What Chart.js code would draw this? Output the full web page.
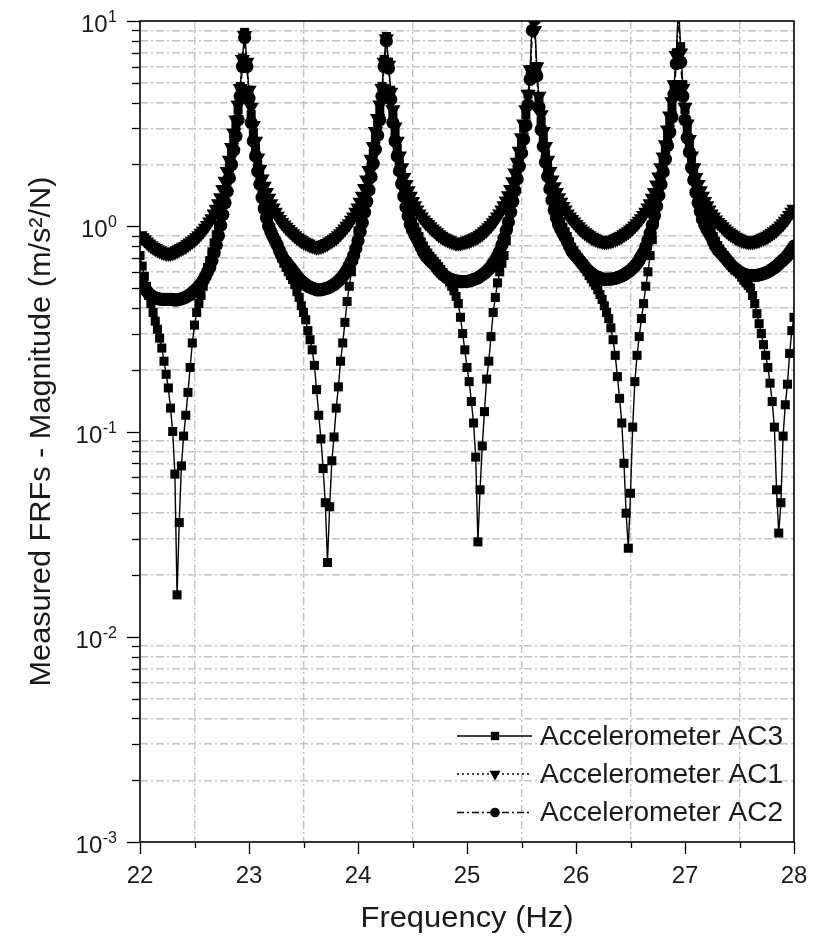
<!DOCTYPE html>
<html>
<head>
<meta charset="utf-8">
<script src="https://cdn.jsdelivr.net/npm/chart.js@4.4.0/dist/chart.umd.min.js"></script>
<style>
html,body{margin:0;padding:0;background:#fff;}
canvas{display:block;background:#fff;}
</style>
</head>
<body>
<canvas id="c" width="815" height="939"></canvas>
<script>
// ---------------- DATA ----------------
const seriesNames = ['Accelerometer AC3', 'Accelerometer AC1', 'Accelerometer AC2'];
const xTitle = 'Frequency (Hz)';
const yTitle = 'Measured FRFs - Magnitude (m/s\u00B2/N)';

const freq = [
22.00,22.02,22.04,22.06,22.08,22.10,22.12,22.14,22.16,22.18,
22.20,22.22,22.24,22.26,22.28,22.30,22.32,22.34,22.36,22.38,
22.40,22.42,22.44,22.46,22.48,22.50,22.52,22.54,22.56,22.58,
22.60,22.62,22.64,22.66,22.68,22.70,22.72,22.74,22.76,22.78,
22.80,22.82,22.84,22.86,22.88,22.90,22.92,22.94,22.96,22.98,
23.00,23.02,23.04,23.06,23.08,23.10,23.12,23.14,23.16,23.18,
23.20,23.22,23.24,23.26,23.28,23.30,23.32,23.34,23.36,23.38,
23.40,23.42,23.44,23.46,23.48,23.50,23.52,23.54,23.56,23.58,
23.60,23.62,23.64,23.66,23.68,23.70,23.72,23.74,23.76,23.78,
23.80,23.82,23.84,23.86,23.88,23.90,23.92,23.94,23.96,23.98,
24.00,24.02,24.04,24.06,24.08,24.10,24.12,24.14,24.16,24.18,
24.20,24.22,24.24,24.26,24.28,24.30,24.32,24.34,24.36,24.38,
24.40,24.42,24.44,24.46,24.48,24.50,24.52,24.54,24.56,24.58,
24.60,24.62,24.64,24.66,24.68,24.70,24.72,24.74,24.76,24.78,
24.80,24.82,24.84,24.86,24.88,24.90,24.92,24.94,24.96,24.98,
25.00,25.02,25.04,25.06,25.08,25.10,25.12,25.14,25.16,25.18,
25.20,25.22,25.24,25.26,25.28,25.30,25.32,25.34,25.36,25.38,
25.40,25.42,25.44,25.46,25.48,25.50,25.52,25.54,25.56,25.58,
25.60,25.62,25.64,25.66,25.68,25.70,25.72,25.74,25.76,25.78,
25.80,25.82,25.84,25.86,25.88,25.90,25.92,25.94,25.96,25.98,
26.00,26.02,26.04,26.06,26.08,26.10,26.12,26.14,26.16,26.18,
26.20,26.22,26.24,26.26,26.28,26.30,26.32,26.34,26.36,26.38,
26.40,26.42,26.44,26.46,26.48,26.50,26.52,26.54,26.56,26.58,
26.60,26.62,26.64,26.66,26.68,26.70,26.72,26.74,26.76,26.78,
26.80,26.82,26.84,26.86,26.88,26.90,26.92,26.94,26.96,26.98,
27.00,27.02,27.04,27.06,27.08,27.10,27.12,27.14,27.16,27.18,
27.20,27.22,27.24,27.26,27.28,27.30,27.32,27.34,27.36,27.38,
27.40,27.42,27.44,27.46,27.48,27.50,27.52,27.54,27.56,27.58,
27.60,27.62,27.64,27.66,27.68,27.70,27.72,27.74,27.76,27.78,
27.80,27.82,27.84,27.86,27.88,27.90,27.92,27.94,27.96,27.98,
28.00
];

// Accelerometer AC3 (squares, solid line) - deep antiresonances
const ac3 = [
.72,.64,.57,.51,.46,.42,.38,.345,.315,.285,
.255,.22,.19,.163,.13,.10,.062,.016,.036,.068,
.095,.12,.155,.205,.27,.33,.38,.42,.46,.51,
.57,.63,.68,.75,.83,.91,1.01,1.13,1.28,1.45,
1.66,1.92,2.25,2.65,3.1,3.7,4.8,6.6,8.8,6.2,
4.6,3.5,2.85,2.4,2.0,1.72,1.48,1.3,1.17,1.06,
.98,.91,.85,.80,.75,.70,.66,.63,.60,.575,
.55,.52,.48,.45,.41,.38,.35,.31,.28,.25,
.21,.16,.12,.092,.066,.045,.023,.043,.072,.094,
.13,.165,.22,.27,.34,.43,.51,.6,.69,.78,
.95,1.05,1.17,1.31,1.48,1.68,1.95,2.25,2.65,3.1,
3.7,4.8,6.5,8.4,6.3,4.6,3.5,2.85,2.4,2.03,
1.76,1.53,1.36,1.23,1.12,1.05,.99,.94,.89,.84,
.80,.765,.74,.715,.695,.675,.655,.635,.615,.595,
.575,.555,.535,.51,.485,.455,.42,.36,.30,.25,
.205,.175,.14,.11,.075,.029,.052,.085,.125,.18,
.22,.29,.38,.45,.53,.60,.66,.72,.85,1.0,
1.2,1.42,1.63,1.88,2.18,2.55,3.0,3.5,4.4,5.8,
11,10.5,6.0,4.2,3.25,2.7,2.25,1.92,1.67,1.47,
1.32,1.2,1.11,1.05,.99,.94,.89,.84,.79,.76,
.73,.70,.675,.65,.625,.60,.575,.555,.535,.515,
.49,.465,.44,.41,.38,.355,.32,.28,.235,.185,
.145,.11,.07,.04,.027,.05,.105,.175,.235,.29,
.355,.42,.51,.6,.72,.86,1.05,1.25,1.48,1.75,
2.05,2.38,2.75,3.2,3.8,4.9,7.0,12,7.5,4.9,
3.7,3.0,2.55,2.15,1.87,1.63,1.45,1.31,1.2,1.12,
1.06,1.0,.95,.89,.845,.805,.775,.745,.72,.695,
.67,.65,.63,.61,.60,.585,.565,.545,.53,.515,
.50,.46,.42,.375,.335,.30,.265,.235,.205,.172,
.14,.105,.052,.032,.045,.095,.135,.17,.24,.31,
.36
];

// Accelerometer AC1 (down triangles, dotted line) - upper curve
const ac1 = [
.90,.88,.86,.84,.82,.805,.79,.78,.77,.76,
.75,.745,.74,.74,.74,.745,.75,.76,.77,.78,
.79,.80,.815,.83,.845,.86,.88,.90,.925,.95,
.98,1.01,1.05,1.09,1.15,1.21,1.29,1.38,1.51,1.66,
1.85,2.1,2.42,2.85,3.3,3.9,4.7,6.5,8.5,6.3,
4.6,3.8,3.1,2.6,2.15,1.9,1.7,1.57,1.46,1.37,
1.29,1.23,1.17,1.12,1.08,1.045,1.015,.99,.965,.94,
.92,.90,.88,.865,.85,.84,.83,.82,.81,.805,
.80,.79,.795,.80,.805,.815,.825,.84,.85,.865,
.88,.90,.92,.945,.97,1.0,1.03,1.07,1.11,1.17,
1.23,1.31,1.4,1.53,1.68,1.87,2.12,2.45,2.9,3.35,
3.9,4.7,6.3,8.2,6.1,4.5,3.7,3.05,2.6,2.2,
1.93,1.73,1.6,1.49,1.4,1.32,1.26,1.2,1.15,1.11,
1.075,1.045,1.02,.995,.97,.95,.93,.91,.895,.88,
.87,.86,.85,.84,.835,.83,.83,.83,.835,.84,
.845,.85,.86,.87,.88,.89,.905,.92,.94,.96,
.985,1.01,1.04,1.07,1.11,1.15,1.2,1.26,1.33,1.41,
1.51,1.65,1.82,2.05,2.32,2.7,3.15,3.7,4.4,5.8,
10.5,9.0,6.0,4.3,3.5,2.9,2.45,2.1,1.85,1.68,
1.56,1.46,1.38,1.31,1.25,1.2,1.15,1.11,1.08,1.05,
1.02,.995,.97,.95,.93,.915,.90,.885,.875,.865,
.855,.85,.845,.84,.84,.845,.85,.855,.865,.875,
.885,.895,.91,.925,.94,.96,.98,1.005,1.03,1.06,
1.09,1.13,1.17,1.23,1.29,1.37,1.46,1.59,1.74,1.93,
2.18,2.5,2.95,3.45,4.05,4.9,6.8,11,7.0,4.7,
3.8,3.15,2.65,2.2,1.93,1.73,1.6,1.49,1.4,1.32,
1.26,1.2,1.15,1.11,1.075,1.045,1.02,.995,.97,.95,
.93,.915,.90,.885,.875,.865,.855,.85,.845,.84,
.84,.84,.845,.85,.855,.865,.875,.885,.895,.91,
.925,.94,.96,.98,1.005,1.03,1.06,1.09,1.13,1.17,
1.21
];

// Accelerometer AC2 (circles, dash-dot line) - middle curve
const ac2 = [
.54,.52,.50,.485,.47,.46,.453,.448,.445,.442,
.44,.44,.44,.44,.44,.44,.437,.438,.44,.443,
.447,.452,.458,.465,.475,.485,.495,.51,.525,.545,
.57,.60,.63,.68,.74,.81,.90,1.01,1.14,1.3,
1.48,1.72,2.0,2.35,2.75,3.3,4.3,6.0,8.3,6.0,
4.2,3.2,2.6,2.2,1.85,1.6,1.38,1.22,1.1,1.0,
.94,.89,.85,.81,.76,.72,.69,.67,.65,.63,
.61,.59,.57,.555,.54,.53,.52,.51,.505,.50,
.495,.49,.49,.49,.493,.497,.50,.505,.512,.52,
.53,.54,.555,.57,.59,.615,.645,.675,.72,.78,
.85,.94,1.04,1.17,1.32,1.5,1.74,2.02,2.37,2.77,
3.3,4.3,6.0,8.0,5.9,4.15,3.2,2.6,2.2,1.86,
1.61,1.4,1.24,1.12,1.02,.96,.91,.87,.83,.785,
.75,.72,.70,.68,.665,.65,.63,.61,.595,.58,
.57,.56,.555,.55,.545,.54,.54,.537,.537,.538,
.539,.541,.545,.55,.555,.561,.57,.58,.59,.603,
.618,.635,.66,.685,.715,.755,.81,.875,.955,1.05,
1.17,1.32,1.49,1.7,1.96,2.27,2.65,3.1,3.9,5.2,
9.0,10.2,5.4,3.8,2.95,2.45,2.05,1.75,1.52,1.34,
1.2,1.1,1.02,.97,.925,.885,.845,.8,.76,.735,
.715,.695,.675,.655,.635,.617,.603,.59,.58,.57,
.565,.56,.555,.55,.552,.552,.553,.555,.558,.562,
.567,.573,.58,.59,.60,.61,.625,.64,.66,.685,
.715,.745,.795,.855,.925,1.015,1.125,1.255,1.415,1.6,
1.84,2.12,2.47,2.87,3.4,4.4,6.2,10.8,6.3,4.3,
3.3,2.7,2.3,1.93,1.68,1.46,1.3,1.18,1.08,1.02,
.97,.93,.89,.84,.80,.77,.75,.73,.71,.69,
.67,.65,.635,.62,.61,.60,.59,.585,.58,.575,
.575,.575,.575,.577,.58,.583,.588,.593,.60,.608,
.618,.628,.64,.655,.67,.685,.70,.72,.745,.77,
.80
];

const xTickValues = [22,22.5,23,23.5,24,24.5,25,25.5,26,26.5,27,27.5,28];
const xTickLabels = ['22','','23','','24','','25','','26','','27','','28'];
const yTickValues = [
0.001,0.002,0.003,0.004,0.005,0.006,0.007,0.008,0.009,
0.01,0.02,0.03,0.04,0.05,0.06,0.07,0.08,0.09,
0.1,0.2,0.3,0.4,0.5,0.6,0.7,0.8,0.9,
1,2,3,4,5,6,7,8,9,10];
const yDecadeValues = [0.001, 0.01, 0.1, 1, 10];
const yDecadeExponents = ['-3', '-2', '-1', '0', '1'];

// ---------------- HELPERS ----------------
const FONT = '"Liberation Sans", Arial, Helvetica, sans-serif';
const GRID_COLOR = '#c4c4c4';
function isDecade(v) { const l = Math.log10(v); return Math.abs(l - Math.round(l)) < 1e-9; }
function isInt(v) { return Math.abs(v - Math.round(v)) < 1e-9; }

function drawMarker(ctx, style, x, y, r) {
  ctx.beginPath();
  if (style === 'rect') {
    const s = r * Math.SQRT1_2;
    ctx.rect(x - s, y - s, 2 * s, 2 * s);
  } else if (style === 'triangleDown') {
    ctx.moveTo(x, y + r);
    ctx.lineTo(x - r * 0.866, y - r * 0.5);
    ctx.lineTo(x + r * 0.866, y - r * 0.5);
    ctx.closePath();
  } else {
    ctx.arc(x, y, r, 0, Math.PI * 2);
  }
  ctx.fill();
}

function fittedText(ctx, text, x, y, font, targetW, rot, align) {
  ctx.save();
  ctx.translate(x, y);
  if (rot) ctx.rotate(rot);
  ctx.font = font;
  const w = ctx.measureText(text).width;
  ctx.scale(targetW / w, 1);
  ctx.textAlign = align || 'center';
  ctx.textBaseline = 'alphabetic';
  ctx.fillText(text, 0, 0);
  ctx.restore();
}

const decor = {
  id: 'decor',
  afterDraw(chart) {
    const { ctx, chartArea: a, scales: { x, y } } = chart;
    ctx.save();
    ctx.strokeStyle = '#000';
    ctx.fillStyle = '#1a1a1a';
    // frame
    ctx.lineWidth = 1.6;
    ctx.strokeRect(a.left, a.top, a.right - a.left, a.bottom - a.top);
    // y tick marks (outside)
    ctx.lineWidth = 1.3;
    yTickValues.forEach(v => {
      const py = Math.round(y.getPixelForValue(v)) + 0.5;
      const len = isDecade(v) ? 13 : 8;
      ctx.beginPath(); ctx.moveTo(a.left - len, py); ctx.lineTo(a.left, py); ctx.stroke();
    });
    // x tick marks (outside)
    xTickValues.forEach(v => {
      const px = Math.round(x.getPixelForValue(v)) + 0.5;
      const len = isInt(v) ? 12 : 6;
      ctx.beginPath(); ctx.moveTo(px, a.bottom); ctx.lineTo(px, a.bottom + len); ctx.stroke();
    });
    // x tick labels
    ctx.font = '24px ' + FONT;
    ctx.textAlign = 'center';
    ctx.textBaseline = 'alphabetic';
    xTickValues.forEach((v, i) => {
      if (!xTickLabels[i]) return;
      ctx.fillText(xTickLabels[i], x.getPixelForValue(v), a.bottom + 41);
    });
    // y tick labels: 10 with superscript exponent, right aligned
    const rightEdge = a.left - 23;
    yDecadeValues.forEach((v, i) => {
      const py = y.getPixelForValue(v);
      const e = yDecadeExponents[i];
      ctx.font = '16px ' + FONT;
      ctx.textAlign = 'left';
      const ew = ctx.measureText(e).width;
      ctx.fillText(e, rightEdge - ew, py + 1);
      ctx.font = '24px ' + FONT;
      const bw = ctx.measureText('10').width;
      ctx.fillText('10', rightEdge - ew - bw - 0.5, py + 11);
    });
    // axis titles
    fittedText(ctx, xTitle, (a.left + a.right) / 2, a.bottom + 85, '30px ' + FONT, 213, 0);
    fittedText(ctx, yTitle, 50, (a.top + a.bottom) / 2, '30px ' + FONT, 510, -Math.PI / 2);
    // legend
    const rows = [
      { name: seriesNames[0], dash: [], marker: 'rect', r: 5.9 },
      { name: seriesNames[1], dash: [2, 3], marker: 'triangleDown', r: 6.4 },
      { name: seriesNames[2], dash: [7, 3, 2, 3], marker: 'circle', r: 4.8 }
    ];
    const rowY = [a.bottom - 106, a.bottom - 68, a.bottom - 29.5];
    const lx0 = a.right - 337, lx1 = a.right - 262, mx = a.right - 299, tx = a.right - 254;
    rows.forEach((row, i) => {
      const yy = rowY[i];
      ctx.lineWidth = 1.3;
      ctx.setLineDash(row.dash);
      ctx.beginPath(); ctx.moveTo(lx0, yy); ctx.lineTo(lx1, yy); ctx.stroke();
      ctx.setLineDash([]);
      ctx.fillStyle = '#000';
      drawMarker(ctx, row.marker, mx, yy, row.r);
      ctx.fillStyle = '#1a1a1a';
      fittedText(ctx, row.name, tx, yy + 8.5, '27px ' + FONT, 243, 0, 'left');
    });
    ctx.restore();
  }
};

function pts(vals) { return freq.map((f, i) => ({ x: f, y: vals[i] })); }

const gridCfgX = {
  color: c => (c.tick && !isInt(c.tick.value)) ? GRID_COLOR : 'rgba(0,0,0,0)',
  lineWidth: 1.4,
  drawTicks: false
};
const gridCfgY = {
  color: c => (c.tick && !isDecade(c.tick.value)) ? GRID_COLOR : 'rgba(0,0,0,0)',
  lineWidth: 1.4,
  drawTicks: false
};

new Chart(document.getElementById('c'), {
  type: 'line',
  data: {
    datasets: [
      { label: seriesNames[0], data: pts(ac3), borderColor: '#000', borderWidth: 1.4,
        pointStyle: 'rect', pointRadius: 6.4, pointBackgroundColor: '#000', pointBorderColor: '#000',
        pointBorderWidth: 0, tension: 0, fill: false },
      { label: seriesNames[1], data: pts(ac1), borderColor: '#000', borderWidth: 1.3, borderDash: [2, 3],
        pointStyle: 'triangle', pointRotation: 180, pointRadius: 8.8, pointBackgroundColor: '#000',
        pointBorderColor: '#000', pointBorderWidth: 0, tension: 0, fill: false },
      { label: seriesNames[2], data: pts(ac2), borderColor: '#000', borderWidth: 1.3, borderDash: [7, 3, 2, 3],
        pointStyle: 'circle', pointRadius: 6.6, pointBackgroundColor: '#000',
        pointBorderColor: '#000', pointBorderWidth: 0, tension: 0, fill: false }
    ]
  },
  options: {
    responsive: false,
    animation: false,
    devicePixelRatio: 1,
    events: [],
    layout: { padding: { left: 0, right: 21, top: 21, bottom: 0 } },
    plugins: { legend: { display: false }, tooltip: { enabled: false } },
    scales: {
      x: {
        type: 'linear', min: 22, max: 28,
        afterBuildTicks: s => { s.ticks = xTickValues.map(v => ({ value: v })); },
        afterFit: s => { s.height = 97; },
        ticks: { display: false },
        grid: gridCfgX,
        border: { display: false, dash: [8, 3, 2, 3] }
      },
      y: {
        type: 'logarithmic', min: 0.001, max: 10,
        afterBuildTicks: s => { s.ticks = yTickValues.map(v => ({ value: v })); },
        afterFit: s => { s.width = 140; },
        ticks: { display: false },
        grid: gridCfgY,
        border: { display: false, dash: [8, 3, 2, 3] }
      }
    }
  },
  plugins: [decor]
});
</script>
</body>
</html>
